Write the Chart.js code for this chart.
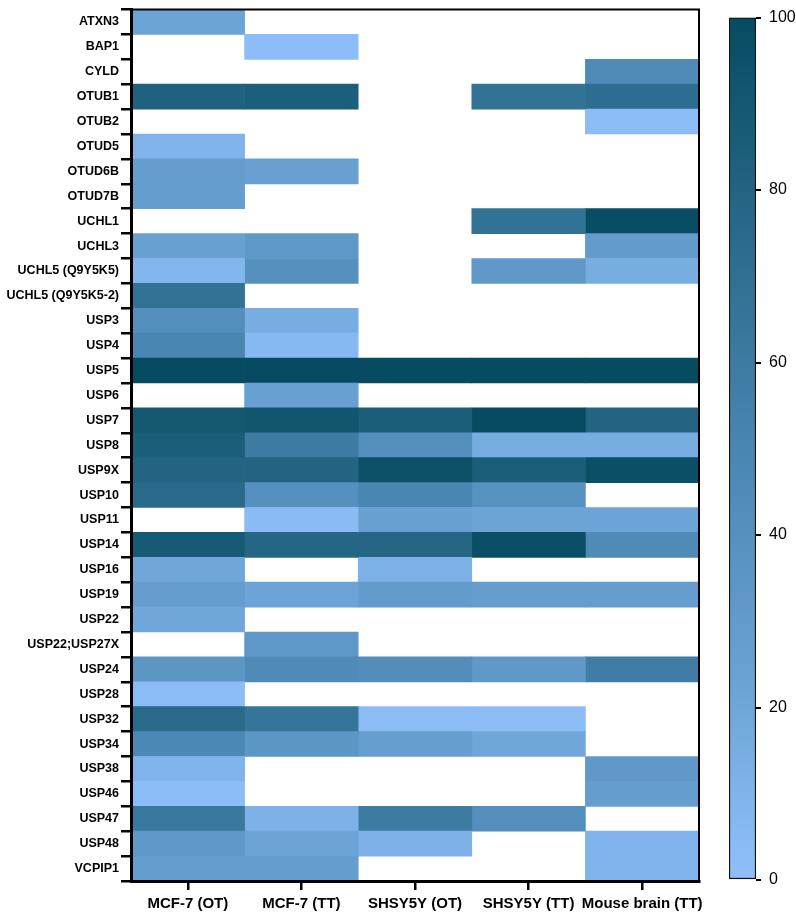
<!DOCTYPE html>
<html>
<head>
<meta charset="utf-8">
<script src="https://cdn.jsdelivr.net/npm/chart.js@4.4.1/dist/chart.umd.min.js"></script>
<style>
  html, body { margin: 0; padding: 0; background: #fff; }
  #wrap { position: relative; width: 796px; height: 913px; }
  #heat { position: absolute; left: 0; top: 0; width: 796px; height: 913px; }
  #bar { position: absolute; left: 700px; top: 0; width: 96px; height: 913px; }
</style>
</head>
<body>
<div id="wrap">
  <canvas id="heat" width="796" height="913"></canvas>
  <canvas id="bar" width="96" height="913"></canvas>
</div>
<script>
const genes = [
  "ATXN3", "BAP1", "CYLD", "OTUB1", "OTUB2", "OTUD5", "OTUD6B", "OTUD7B",
  "UCHL1", "UCHL3", "UCHL5 (Q9Y5K5)", "UCHL5 (Q9Y5K5-2)", "USP3", "USP4",
  "USP5", "USP6", "USP7", "USP8", "USP9X", "USP10", "USP11", "USP14",
  "USP16", "USP19", "USP22", "USP22;USP27X", "USP24", "USP28", "USP32",
  "USP34", "USP38", "USP46", "USP47", "USP48", "VCPIP1"
];
const samples = ["MCF-7 (OT)", "MCF-7 (TT)", "SHSY5Y (OT)", "SHSY5Y (TT)", "Mouse brain (TT)"];

// one array per column, same order as genes; null = not detected
const mcf7OT = [22, null, null, 82, null, 10, 28, 28, null, 25, 8, 68, 42, 50,
  100, null, 90, 85, 80, 75, null, 88, 20, 28, 20, null, 35, 3, 75, 48, 10, 3, 62, 32, 28];
const mcf7TT = [null, 2, null, 84, null, null, 25, null, null, 33, 40, null, 15, 6,
  100, 25, 92, 60, 80, 40, 4, 78, null, 22, null, 33, 45, null, 65, 35, null, null, 12, 22, 28];
const shsyOT = [null, null, null, null, null, null, null, null, null, null, null, null, null, null,
  100, null, 85, 42, 95, 50, 25, 78, 12, 30, null, null, 43, null, 3, 27, null, null, 60, 12, null];
const shsyTT = [null, null, null, 68, null, null, null, null, 68, null, 32, null, null, null,
  100, null, 100, 15, 85, 38, 22, 97, null, 28, null, null, 32, null, 3, 20, null, null, 42, null, null];
const mouseTT = [null, null, 45, 72, 3, null, null, null, 98, 30, 15, null, null, null,
  100, null, 80, 15, 97, null, 22, 45, null, 28, null, null, 58, null, null, null, 32, 28, null, 10, 10];

const columns = [mcf7OT, mcf7TT, shsyOT, shsyTT, mouseTT];
const colorTicks = [0, 20, 40, 60, 80, 100];

// colour ramp, light blue (0) to dark teal (100)
const ramp = [
  [0, [144, 192, 251]],
  [25, [104, 160, 210]],
  [50, [74, 134, 178]],
  [75, [41, 106, 138]],
  [100, [6, 75, 97]]
];

function colorFor(v) {
  if (v == null) return "rgba(0,0,0,0)";
  for (let i = 1; i < ramp.length; i++) {
    if (v <= ramp[i][0]) {
      const [a, ca] = ramp[i - 1];
      const [b, cb] = ramp[i];
      const t = (v - a) / (b - a);
      const c = ca.map((x, k) => Math.round(x + (cb[k] - x) * t));
      return `rgb(${c[0]},${c[1]},${c[2]})`;
    }
  }
  const c = ramp[ramp.length - 1][1];
  return `rgb(${c[0]},${c[1]},${c[2]})`;
}

Chart.defaults.font.family = "'Liberation Sans', Arial, sans-serif";
Chart.defaults.color = "#000";
Chart.defaults.animation = false;

// thin frame on top and right of the plot area
const framePlugin = {
  id: "frame",
  afterDraw(chart) {
    const { ctx, chartArea: a } = chart;
    ctx.save();
    ctx.strokeStyle = "#000";
    ctx.lineWidth = 2;
    ctx.beginPath();
    ctx.moveTo(a.left, a.top);
    ctx.lineTo(a.right, a.top);
    ctx.lineTo(a.right, a.bottom);
    ctx.stroke();
    ctx.restore();
  }
};

const heatChart = new Chart(document.getElementById("heat").getContext("2d"), {
  type: "bar",
  data: {
    labels: genes,
    datasets: columns.map((vals, c) => ({
      label: samples[c],
      data: vals.map(v => (v == null ? null : [c, c + 1])),
      backgroundColor: ctx => colorFor(vals[ctx.dataIndex]),
      borderWidth: 0,
      barPercentage: 1,
      categoryPercentage: 1,
      grouped: false
    }))
  },
  options: {
    responsive: false,
    indexAxis: "y",
    layout: { padding: { left: 0, right: 97, top: 7, bottom: 0 } },
    plugins: { legend: { display: false }, tooltip: { enabled: false } },
    scales: {
      x: {
        type: "linear",
        min: 0,
        max: 5,
        afterBuildTicks: scale => {
          scale.ticks = samples.map((s, i) => ({ value: i + 0.5 }));
        },
        afterFit: scale => { scale.height = 32; },
        ticks: {
          autoSkip: false,
          maxRotation: 0,
          padding: 5,
          font: { size: 15, weight: "bold" },
          callback: value => samples[Math.round(value - 0.5)]
        },
        grid: { drawOnChartArea: false, tickLength: 9, lineWidth: 2.5, color: "#000", z: 1 },
        border: { color: "#000", width: 3, z: 2 }
      },
      y: {
        type: "category",
        afterFit: scale => { scale.width = 131; },
        ticks: {
          autoSkip: false,
          padding: 2,
          font: { size: 12.5, weight: "bold" }
        },
        grid: { drawOnChartArea: false, tickLength: 10, lineWidth: 2.5, color: "#000", z: 1 },
        border: { color: "#000", width: 3, z: 2 }
      }
    }
  },
  plugins: [framePlugin]
});

// colour scale bar
function rampGradient(ctx) {
  const area = ctx.chart.chartArea;
  if (!area) return null;
  const g = ctx.chart.ctx.createLinearGradient(0, area.bottom, 0, area.top);
  ramp.forEach(([v, c]) => g.addColorStop(v / 100, `rgb(${c[0]},${c[1]},${c[2]})`));
  return g;
}

const barChart = new Chart(document.getElementById("bar").getContext("2d"), {
  type: "bar",
  data: {
    labels: ["scale"],
    datasets: [{
      data: [[colorTicks[0], colorTicks[colorTicks.length - 1]]],
      backgroundColor: rampGradient,
      borderColor: "#111",
      borderWidth: 1.5,
      borderSkipped: false,
      barPercentage: 1,
      categoryPercentage: 1
    }]
  },
  options: {
    responsive: false,
    layout: { padding: { left: 29, right: 0, top: 6, bottom: 33 } },
    plugins: { legend: { display: false }, tooltip: { enabled: false } },
    scales: {
      x: { display: false },
      y: {
        position: "right",
        min: 0,
        max: 100,
        afterBuildTicks: scale => {
          scale.ticks = colorTicks.map(v => ({ value: v }));
        },
        afterFit: scale => { scale.width = 40; },
        ticks: { padding: 8, font: { size: 16 }, color: "#000" },
        grid: { drawOnChartArea: false, tickLength: 5, lineWidth: 2, color: "#000", offset: false },
        border: { display: false }
      }
    }
  }
});
</script>
</body>
</html>
